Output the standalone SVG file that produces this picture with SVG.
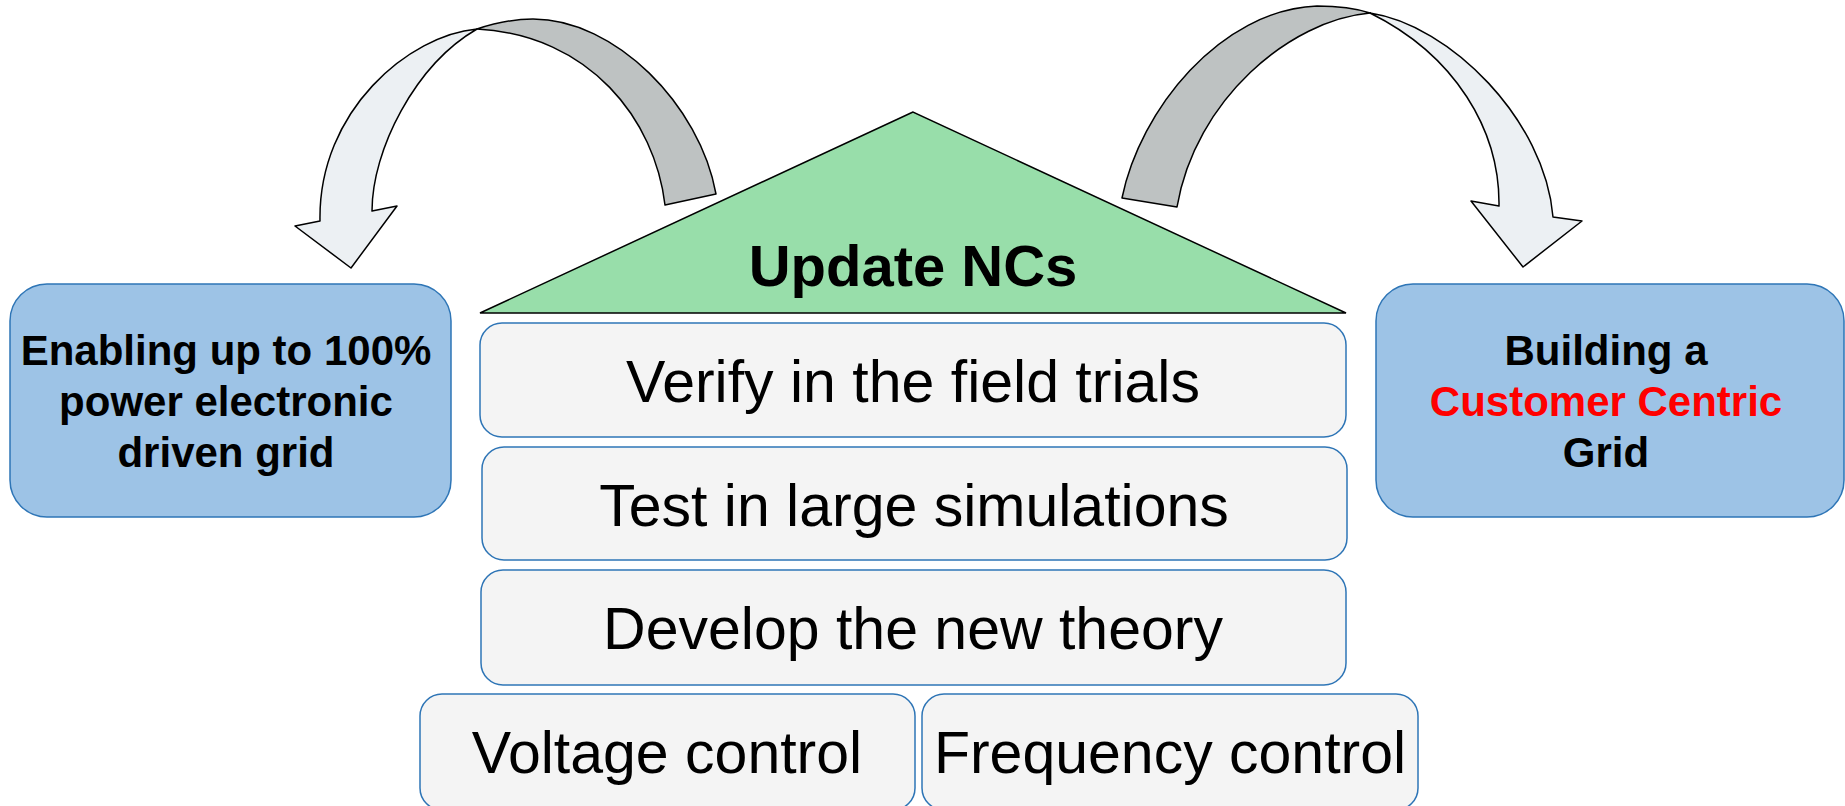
<svg xmlns="http://www.w3.org/2000/svg" width="1845" height="806" viewBox="0 0 1845 806">
<style>
.goal{fill:#9DC3E6;stroke:#2E75B6;stroke-width:1.5}
.step{fill:#F4F4F4;stroke:#2E75B6;stroke-width:1.5}
.gt{font-family:"Liberation Sans",Arial,sans-serif;font-weight:bold;font-size:42px;text-anchor:middle;fill:#000}
.st{font-family:"Liberation Sans",Arial,sans-serif;font-size:59px;text-anchor:middle;fill:#000}
.back{fill:#BEC2C2;stroke:#000;stroke-width:1.5;stroke-linejoin:round}
.front{fill:#ECF0F3;stroke:#000;stroke-width:1.5;stroke-linejoin:round}
</style>
<rect width="1845" height="806" fill="#FFFFFF"/>
<g id="connectors">
  <g id="arrow-left">
    <path class="back" d="M477,29 C495,23 515,19 533,19 C615,19 700,105 716,194 L665,205 C655,120 590,35 477,29 Z"/>
    <path class="front" d="M477,29 C410,35 318,110 320,221 L295,226 L351,268 L397,206 L372,211 C372,150 415,65 477,29 Z"/>
  </g>
  <g id="arrow-right">
    <path class="back" d="M1122,198 C1140,110 1220,10 1317,6 C1340,6 1358,9 1370,13 C1290,20 1195,100 1177,207 Z"/>
    <path class="front" d="M1370,13 C1450,25 1545,120 1553,217 L1582,221 L1523,267 L1471,201 L1499,206 C1500,130 1455,55 1370,13 Z"/>
  </g>
</g>
<g id="roof">
  <polygon points="913,112 480,313 1346,313" fill="#98DEAA" stroke="#000" stroke-width="1.5" stroke-linejoin="miter"/>
  <text x="913" y="286" font-family="Liberation Sans, Arial, sans-serif" font-weight="bold" font-size="58" text-anchor="middle" fill="#000">Update NCs</text>
</g>
<g id="goal-left">
  <rect class="goal" x="10" y="284" width="441" height="233" rx="37" ry="37"/>
  <text class="gt" x="226" y="365">Enabling up to 100%</text>
  <text class="gt" x="226" y="416">power electronic</text>
  <text class="gt" x="226" y="467">driven grid</text>
</g>
<g id="goal-right">
  <rect class="goal" x="1376" y="284" width="468" height="233" rx="37" ry="37"/>
  <text class="gt" x="1606" y="365">Building a</text>
  <text class="gt" x="1606" y="416" fill="#FF0000" style="fill:#FF0000">Customer Centric</text>
  <text class="gt" x="1606" y="467">Grid</text>
</g>
<g id="step-verify">
  <rect class="step" x="480" y="323" width="866" height="114" rx="22" ry="22"/>
  <text class="st" x="913" y="402">Verify in the field trials</text>
</g>
<g id="step-test">
  <rect class="step" x="482" y="447" width="865" height="113" rx="22" ry="22"/>
  <text class="st" x="914" y="526">Test in large simulations</text>
</g>
<g id="step-develop">
  <rect class="step" x="481" y="570" width="865" height="115" rx="22" ry="22"/>
  <text class="st" x="913" y="649">Develop the new theory</text>
</g>
<g id="base-voltage">
  <rect class="step" x="420" y="694" width="495" height="116" rx="22" ry="22"/>
  <text class="st" x="667" y="773">Voltage control</text>
</g>
<g id="base-frequency">
  <rect class="step" x="922" y="694" width="496" height="116" rx="22" ry="22"/>
  <text class="st" x="1170" y="773">Frequency control</text>
</g>
</svg>
